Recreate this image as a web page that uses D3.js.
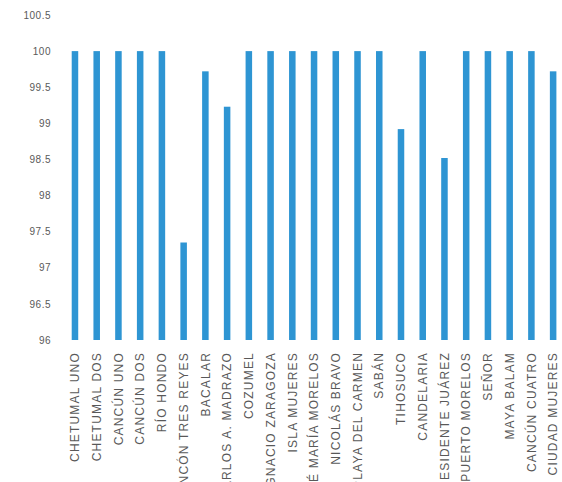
<!DOCTYPE html>
<html><head><meta charset="utf-8">
<script src="https://cdn.jsdelivr.net/npm/d3@7"></script>
<style>body{margin:0;background:#fff}svg{display:block}</style>
</head><body>
<svg id="c" width="562" height="482"></svg>
<script>
const categories = ["CHETUMAL UNO","CHETUMAL DOS","CANCÚN UNO","CANCÚN DOS","RÍO HONDO","RINCÓN TRES REYES","BACALAR","CARLOS A. MADRAZO","COZUMEL","IGNACIO ZARAGOZA","ISLA MUJERES","JOSÉ MARÍA MORELOS","NICOLÁS BRAVO","PLAYA DEL CARMEN","SABÁN","TIHOSUCO","CANDELARIA","PRESIDENTE JUÁREZ","PUERTO MORELOS","SEÑOR","MAYA BALAM","CANCÚN CUATRO","CIUDAD MUJERES"];
const values = [100,100,100,100,100,97.35,99.72,99.23,100,100,100,100,100,100,100,98.92,100,98.52,100,100,100,100,99.72];
const yTicks = [96,96.5,97,97.5,98,98.5,99,99.5,100,100.5];

const svg = d3.select("#c");
const x = d3.scaleBand().domain(categories).range([64.1,564]).paddingInner(0.7).paddingOuter(0.35);
const y = d3.scaleLinear().domain([96,100.5]).range([340,15]);

svg.append("g").attr("transform","translate(51,0)")
  .call(d3.axisLeft(y).tickValues(yTicks).tickSize(0).tickPadding(0).tickFormat(d=>d))
  .call(g=>g.select(".domain").remove())
  .selectAll("text").attr("font-family","Liberation Sans, Arial, sans-serif").attr("font-size",10)
  .attr("letter-spacing","0.5px").attr("fill","#595959");

svg.append("g").selectAll("rect").data(values).join("rect")
  .attr("x",(d,i)=>x(categories[i]))
  .attr("width",x.bandwidth())
  .attr("y",d=>y(d))
  .attr("height",d=>y(96)-y(d))
  .attr("fill","#2E95D3");

const xa = svg.append("g").attr("transform","translate(0,340)")
  .call(d3.axisBottom(x).tickSize(0).tickPadding(0));
xa.select(".domain").remove();
xa.selectAll("text")
  .attr("font-family","Liberation Sans, Arial, sans-serif").attr("font-size",12)
  .attr("letter-spacing","1.2px").attr("fill","#595959")
  .attr("transform","rotate(-90)").attr("text-anchor","end")
  .attr("x",-12).attr("y",0).attr("dy","0.35em");
</script>
</body></html>
